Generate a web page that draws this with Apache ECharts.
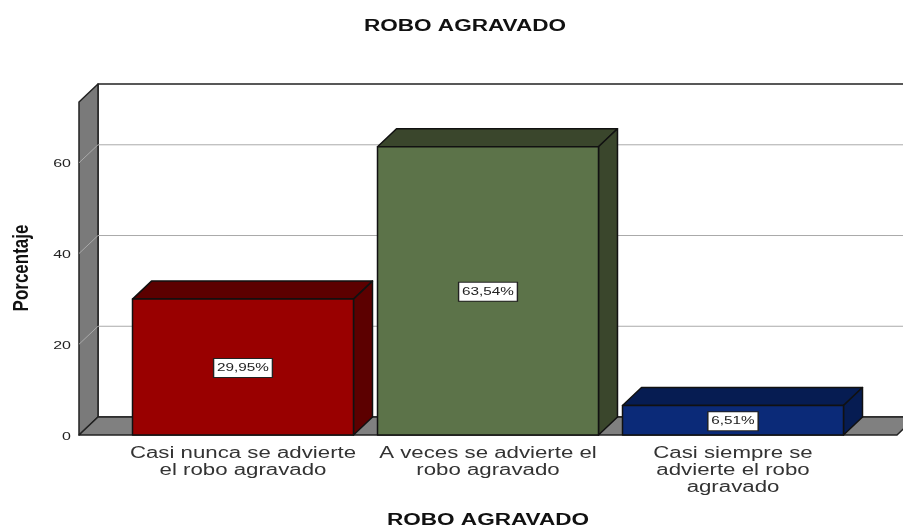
<!DOCTYPE html>
<html>
<head>
<meta charset="utf-8">
<style>
html, body { margin: 0; padding: 0; background: #fff; }
#chart { width: 903px; height: 528px; }
</style>
<script src="https://cdn.jsdelivr.net/npm/echarts@6/dist/echarts.min.js"></script>
</head>
<body>
<div id="chart"></div>
<script>
// data
const categories = [
    'Casi nunca se advierte\nel robo agravado',
    'A veces se advierte el\nrobo agravado',
    'Casi siempre se\nadvierte el robo\nagravado'
];
const values = [29.95, 63.54, 6.51];
const valueLabels = ['29,95%', '63,54%', '6,51%'];
const tickValues = [0, 20, 40, 60];
const frontColors = ['#990000', '#5c7349', '#0b2a78'];
const sideColors = ['#5c0000', '#3a462c', '#061c52'];
const chartTitle = 'ROBO AGRAVADO';
const xAxisName = 'ROBO AGRAVADO';
const yAxisName = 'Porcentaje';

const yMax = 73.4;
const depthX = 19;   // 3D depth of the box
const depthY = 18;
const sideMargin = 41.5; // floor sticks out past the category band
const barRatio = 0.902;
const stretch = 1.39;  // the picture's text is wider than it is tall

const myChart = echarts.init(document.getElementById('chart'), null, { renderer: 'canvas' });

function poly(points, fill, stroke, lineWidth) {
    return {
        type: 'polygon',
        shape: { points: points },
        style: { fill: fill, stroke: stroke, lineWidth: lineWidth, lineJoin: 'round' }
    };
}

function wideText(text, x, y, size, color, align, vAlign, extra) {
    return {
        type: 'text',
        x: x,
        y: y,
        scaleX: stretch,
        z2: 10,
        style: Object.assign({
            text: text,
            align: align,
            verticalAlign: vAlign,
            fill: color,
            font: size + 'px "Liberation Sans"'
        }, extra || {})
    };
}

// walls, floor, grid lines and y tick labels
function renderBox(params, api) {
    const rect = params.coordSys;
    const left = rect.x - sideMargin;
    const right = rect.x + rect.width + sideMargin;
    const y0 = api.coord([0, 0])[1];
    const yTop = api.coord([0, yMax])[1];
    const children = [];

    children.push(poly([[left + depthX, yTop - depthY], [right + depthX, yTop - depthY],
        [right + depthX, y0 - depthY], [left + depthX, y0 - depthY]], '#fff', '#222', 1.5));
    children.push(poly([[left, yTop], [left + depthX, yTop - depthY],
        [left + depthX, y0 - depthY], [left, y0]], '#7a7a7a', '#222', 1.5));
    children.push(poly([[left, y0], [left + depthX, y0 - depthY],
        [right + depthX, y0 - depthY], [right, y0]], '#808080', '#222', 1.5));

    tickValues.forEach(function (v) {
        const y = api.coord([0, v])[1];
        if (v > 0) {
            children.push({
                type: 'polyline',
                shape: { points: [[left, y], [left + depthX, y - depthY], [right + depthX, y - depthY]] },
                style: { fill: null, stroke: '#aaaaaa', lineWidth: 1 }
            });
        }
        children.push(wideText(String(v), left - 8, y + 1.5, 11.5, '#222', 'right', 'middle'));
    });
    return { type: 'group', children: children };
}

// one 3D bar with its value box and category label
function renderBar(params, api) {
    const i = api.value(0);
    const bottom = api.coord([i, 0]);
    const top = api.coord([i, api.value(1)]);
    const w = api.size([1, 0])[0] * barRatio;
    const x0 = bottom[0] - w / 2;
    const x1 = bottom[0] + w / 2;
    const y0 = bottom[1];
    const y1 = top[1];
    return {
        type: 'group',
        children: [
            poly([[x0, y1], [x0 + depthX, y1 - depthY], [x1 + depthX, y1 - depthY], [x1, y1]], sideColors[i], '#111', 1.5),
            poly([[x1, y1], [x1 + depthX, y1 - depthY], [x1 + depthX, y0 - depthY], [x1, y0]], sideColors[i], '#111', 1.5),
            poly([[x0, y1], [x1, y1], [x1, y0], [x0, y0]], frontColors[i], '#111', 1.5),
            wideText(valueLabels[i], bottom[0], (y0 + y1) / 2 + 1, 11, '#222', 'center', 'middle', {
                backgroundColor: '#fff',
                borderColor: '#222',
                borderWidth: 1,
                padding: [4, 2, 3, 2]
            }),
            wideText(categories[i], bottom[0], y0 + 10, 16, '#333', 'center', 'top', { lineHeight: 17 })
        ]
    };
}

const option = {
    animation: false,
    backgroundColor: '#fff',
    grid: { left: 120.5, right: 47.5, top: 102, bottom: 93, outerBoundsMode: 'none' },
    xAxis: {
        type: 'category',
        data: categories,
        axisLine: { show: false },
        axisTick: { show: false },
        axisLabel: { show: false }
    },
    yAxis: {
        type: 'value',
        min: 0,
        max: yMax,
        axisLine: { show: false },
        axisTick: { show: false },
        splitLine: { show: false },
        axisLabel: { show: false }
    },
    graphic: [
        {
            type: 'text', x: 465, y: 26.5, scaleX: 1.41,
            style: { text: chartTitle, align: 'center', verticalAlign: 'middle', fill: '#111', font: 'bold 16px "Liberation Sans"' }
        },
        {
            type: 'text', x: 488, y: 521, scaleX: 1.41,
            style: { text: xAxisName, align: 'center', verticalAlign: 'middle', fill: '#111', font: 'bold 16px "Liberation Sans"' }
        },
        {
            type: 'text', x: 22, y: 268, rotation: Math.PI / 2, scaleY: 1.3,
            style: { text: yAxisName, align: 'center', verticalAlign: 'middle', fill: '#111', font: 'bold 17px "Liberation Sans"' }
        }
    ],
    series: [
        {
            type: 'custom',
            z: 1,
            silent: true,
            renderItem: renderBox,
            data: [[0, 0]]
        },
        {
            type: 'custom',
            z: 2,
            renderItem: renderBar,
            encode: { x: 0, y: 1 },
            data: values.map(function (v, i) { return [i, v]; })
        }
    ]
};

myChart.setOption(option);
</script>
</body>
</html>
